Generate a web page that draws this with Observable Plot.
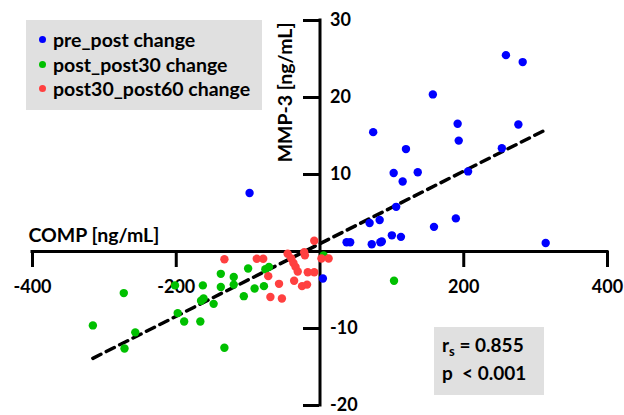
<!DOCTYPE html>
<html><head><meta charset="utf-8">
<script src="https://cdn.jsdelivr.net/npm/d3@7"></script>
<script src="https://cdn.jsdelivr.net/npm/@observablehq/plot@0.6"></script>
<style>
body{margin:0;background:#fff;}
#wrap{position:relative;width:624px;height:415px;font-family:Lato,sans-serif;font-weight:bold;color:#000;}
#legend{position:absolute;left:26px;top:20px;width:236px;height:90px;background:#e0e0e0;}
.row{position:absolute;left:0;height:24px;line-height:24px;font-size:19.5px;white-space:nowrap;}
.dot{position:absolute;left:13px;top:8px;width:7px;height:7px;border-radius:50%;}
.lab{position:absolute;left:27px;top:0;}
#stats{position:absolute;left:434px;top:327px;width:110px;height:68px;background:#e0e0e0;font-size:19px;}
#stats div{position:absolute;left:8px;white-space:nowrap;line-height:24px;}
sub{font-size:13px;vertical-align:-4px;line-height:0;}
</style></head>
<body><div id="wrap"></div>
<script>
const seriesNames = ["pre_post change", "post_post30 change", "post30_post60 change"];
const seriesColors = ["#0000ff", "#00c000", "#ff4040"];

const preX = [258.7, 282, 157, 74, 191.5, 276, 119.6, 193, 253, 102.5, 136, 115, 206, 106, 69, 83, 158.6, 189, 37, 42, 72, 84, 86, 100, 112.6, 314, -98, 4];
const preY = [25.5, 24.6, 20.4, 15.5, 16.6, 16.5, 13.3, 14.4, 13.4, 10.2, 10.3, 9.1, 10.4, 5.8, 3.7, 4.1, 3.2, 4.3, 1.2, 1.2, 0.95, 1.2, 1.3, 2.1, 1.9, 1.1, 7.6, -3.5];

const postX = [-273, -316, -257, -272, -201.7, -163, -138, -138, -162, -165.5, -148, -198, -189, -166.5, -133, -120, -120, -100, -91, -106, -78, -76, -71, 5, 103];
const postY = [-5.4, -9.6, -10.5, -12.6, -4.4, -4.4, -2.9, -4.6, -6.1, -6.4, -6.8, -8.0, -9.1, -9.1, -12.5, -3.3, -4.3, -2.2, -4.8, -5.8, -4.5, -2.3, -2.0, -0.5, -3.8];

const post30X = [-133, -88, -79, -72, -57, -69, -53, -45, -40, -37, -34, -31, -36, -22, -21, -17, -8, -25, -18, -8, 2, 12];
const post30Y = [-1.0, -0.95, -0.95, -3.2, -4.2, -5.9, -6.1, -0.3, -0.9, -1.5, -2.0, -2.6, -3.8, -0.1, -0.5, -2.7, -2.7, -4.5, -4.3, 1.4, -0.9, -0.9];

const xTicks = [-400, -200, 200, 400];
const yTicks = [-20, -10, 10, 20, 30];
const xLabel = "COMP [ng/mL]";
const yLabel = "MMP-3 [ng/mL]";
const statR = "0.855";
const statP = "< 0.001";

const seriesX = [preX, postX, post30X];
const seriesY = [preY, postY, post30Y];
const points = [];
seriesNames.forEach((s, k) => seriesX[k].forEach((x, i) => points.push({series: s, x, y: seriesY[k][i]})));

const font = {fontSize: 18, fontWeight: "bold"};
const chart = Plot.plot({
  width: 624, height: 415,
  marginLeft: 32, marginRight: 17, marginTop: 20, marginBottom: 10,
  x: {domain: [-400, 400], axis: null},
  y: {domain: [-20, 30], axis: null},
  color: {domain: seriesNames, range: seriesColors},
  style: {fontFamily: "Lato, sans-serif", fontWeight: "bold", background: "transparent", overflow: "visible", color: "#000"},
  marks: [
    Plot.ruleY([0], {x1: -400, x2: 400, strokeWidth: 3, strokeLinecap: "square"}),
    Plot.ruleX([0], {y1: -20, y2: 30, strokeWidth: 3, strokeLinecap: "square"}),
    Plot.axisX(xTicks, {anchor: "bottom", tickSize: 16, strokeWidth: 3, dy: -154, tickFormat: () => "", label: null}),
    Plot.axisY(yTicks, {anchor: "left", tickSize: 16, strokeWidth: 3, dx: 287, tickFormat: () => "", label: null}),
    Plot.text(xTicks, {x: d => d, y: () => 0, text: d => String(d), dy: 36, ...font}),
    Plot.text(yTicks, {x: () => 0, y: d => d, text: d => String(d), dx: 10, textAnchor: "start", ...font}),
    Plot.text([xLabel], {x: () => -400, y: () => 0, text: d => d, dx: -4, dy: -16, textAnchor: "start", fontSize: 19.5, fontWeight: "bold"}),
    Plot.text([yLabel], {x: () => 0, y: () => 30, text: d => d, dx: -34, dy: 2, rotate: -90, textAnchor: "end", fontSize: 19.5, fontWeight: "bold"}),
    Plot.linearRegressionY(points, {x: "x", y: "y", ci: 0, stroke: "black", strokeWidth: 3.5, strokeDasharray: "9,6"}),
    Plot.dot(points, {x: "x", y: "y", fill: "series", r: 4.2})
  ]
});
const wrap = document.getElementById("wrap");
wrap.appendChild(chart);
chart.style.position = "absolute"; chart.style.left = "0"; chart.style.top = "0";

const legend = document.createElement("div");
legend.id = "legend";
seriesNames.forEach((s, k) => {
  const row = document.createElement("div");
  row.className = "row";
  row.style.top = (8 + k * 24.5) + "px";
  row.innerHTML = `<span class="dot" style="background:${seriesColors[k]}"></span><span class="lab">${s}</span>`;
  legend.appendChild(row);
});
wrap.appendChild(legend);

const stats = document.createElement("div");
stats.id = "stats";
stats.innerHTML = `<div style="top:6px">r<sub>s</sub> = ${statR}</div><div style="top:34px">p&nbsp; ${statP}</div>`;
wrap.appendChild(stats);
</script>
</body></html>
